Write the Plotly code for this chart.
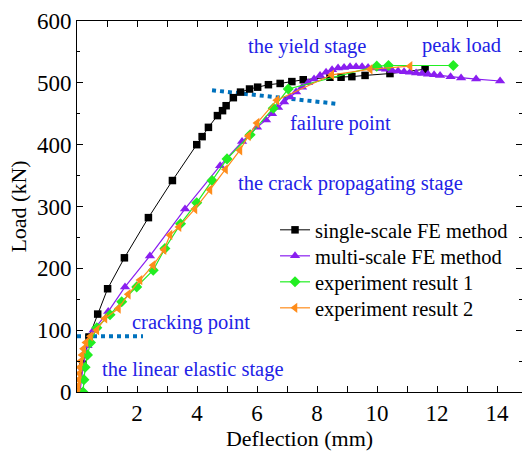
import plotly.graph_objects as go

# single-scale FE method
ss_x = [0.05, 0.2, 0.4, 0.69, 1.02, 1.58, 2.38, 3.18, 3.99, 4.17, 4.38, 4.68, 4.85, 4.97, 5.21, 5.45, 5.75, 6.02, 6.38, 6.77, 7.16, 7.54, 8.43, 8.8, 9.16, 9.6, 10.43, 11.6]
ss_y = [0, 45, 89, 126, 167, 217, 282, 342, 400, 413, 428, 447, 455, 463, 476, 485, 490, 493, 497, 499, 502, 505, 509, 509, 510, 512, 515, 522]

# multi-scale FE method
ms_x = [0.1, 0.2, 0.35, 0.55, 1.04, 1.6, 2.43, 3.6, 4.77, 5.5, 6.0, 6.3, 6.5, 6.7, 6.9, 7.1, 7.3, 7.5, 7.7, 7.9, 8.1, 8.3, 8.5, 8.7, 8.9, 9.1, 9.3, 9.5, 9.7, 9.9, 10.1, 10.3, 10.5, 10.7, 10.9, 11.1, 11.3, 11.5, 11.7, 11.9, 12.1, 12.45, 12.8, 13.3, 14.1]
ms_y = [0, 40, 75, 100, 130, 170, 220, 296, 366, 405, 428, 440, 450, 460, 469, 477, 485, 493, 500, 506, 512, 517, 521, 524, 525, 526, 526, 526, 525, 524, 523, 522, 520, 519, 518, 517, 516, 515, 514, 513, 512, 510, 508, 506, 503]

# experiment result 1
e1_x = [0.2, 0.23, 0.27, 0.35, 0.45, 0.66, 1.1, 1.49, 1.99, 2.54, 2.93, 3.45, 3.99, 4.5, 5.0, 5.77, 6.54, 7.04, 9.99, 10.38, 12.54]
e1_y = [0, 20, 40, 60, 80, 104, 125, 146, 170, 197, 232, 272, 306, 342, 377, 416, 459, 490, 527, 528, 528]

# experiment result 2
e2_x = [0.02, 0.04, 0.06, 0.08, 0.1, 0.13, 0.17, 0.22, 0.3, 0.45, 0.66, 0.93, 1.38, 1.71, 2.1, 2.54, 2.9, 3.1, 3.4, 3.93, 4.43, 4.95, 5.43, 5.71, 6.0, 6.66, 8.49, 9.77, 11.1]
e2_y = [0, 10, 20, 30, 40, 50, 60, 70, 80, 90, 100, 119, 135, 158, 181, 205, 230, 254, 267, 296, 327, 360, 391, 414, 435, 472, 513, 522, 527]

# guide lines
crack_x = [0.0, 2.2]
crack_y = [90, 90]
fail_x = [4.5, 8.67]
fail_y = [488, 466]

annot_text = ["the yield stage", "peak load", "failure point", "the crack propagating stage", "cracking point", "the linear elastic stage"]
annot_x = [7.67, 12.83, 8.77, 9.1, 3.8, 3.85]
annot_y = [558, 560, 434, 337, 113, 37]

serif = "Liberation Serif"
blue_txt = "#2222e6"
dot_col = "#0072bd"

fig = go.Figure()
fig.add_trace(go.Scatter(x=crack_x, y=crack_y, mode="lines", line=dict(color=dot_col, width=4, dash="dot"), showlegend=False))
fig.add_trace(go.Scatter(x=fail_x, y=fail_y, mode="lines", line=dict(color=dot_col, width=4, dash="dot"), showlegend=False))

fig.add_trace(go.Scatter(x=ss_x, y=ss_y, name="single-scale FE method", mode="lines+markers", legend="legend",
                         line=dict(color="black", width=1), marker=dict(symbol="square", size=7.5, color="black")))
fig.add_trace(go.Scatter(x=ms_x, y=ms_y, name="multi-scale FE method", mode="lines+markers", legend="legend2",
                         line=dict(color="#8a1ef0", width=1.2), marker=dict(symbol="triangle-up", size=9, color="#8a1ef0")))
fig.add_trace(go.Scatter(x=e1_x, y=e1_y, name="experiment result 1", mode="lines+markers", legend="legend3",
                         line=dict(color="#22ee22", width=1.2), marker=dict(symbol="diamond", size=8.5, color="#22ee22")))
fig.add_trace(go.Scatter(x=e2_x, y=e2_y, name="experiment result 2", mode="lines+markers", legend="legend4",
                         line=dict(color="#ff8c1a", width=1.2), marker=dict(symbol="triangle-left", size=9, color="#ff8c1a")))

for t, ax, ay in zip(annot_text, annot_x, annot_y):
    fig.add_annotation(x=ax, y=ay, text=t, showarrow=False, xref="x", yref="y",
                       font=dict(family=serif, size=20.5, color=blue_txt))

leg_rows = [230, 256, 282, 308]
leg_common = dict(x=0.445, xanchor="left", yanchor="middle", bgcolor="rgba(0,0,0,0)",
                  font=dict(family=serif, size=20.5, color="black"), itemwidth=30)
legends = {}
for i, py in enumerate(leg_rows):
    key = "legend" if i == 0 else f"legend{i + 1}"
    legends[key] = dict(y=(392 - py) / 371, **leg_common)

fig.update_layout(
    width=522, height=454,
    margin=dict(l=77, r=0, t=21, b=62),
    paper_bgcolor="white", plot_bgcolor="white",
    font=dict(family=serif, size=22, color="black"),
    xaxis=dict(range=[0, 14.83], showgrid=False, zeroline=False, showline=True, linecolor="black", linewidth=1,
               mirror="allticks", ticks="inside", ticklen=6, tickcolor="black",
               tickvals=[2, 4, 6, 8, 10, 12, 14],
               minor=dict(ticks="inside", ticklen=3, dtick=1, tick0=0, tickcolor="black"),
               title=dict(text="Deflection (mm)", standoff=6, font=dict(family=serif, size=22)),
               tickfont=dict(family=serif, size=23)),
    yaxis=dict(range=[0, 600], showgrid=False, zeroline=False, showline=True, linecolor="black", linewidth=1,
               mirror=False, ticks="inside", ticklen=6, tickcolor="black", dtick=100,
               minor=dict(ticks="inside", ticklen=3, dtick=50, tickcolor="black"),
               title=dict(text="Load (kN)", standoff=4, font=dict(family=serif, size=22)),
               tickfont=dict(family=serif, size=23)),
    yaxis2=dict(range=[0, 600], overlaying="y", side="right", showgrid=False, zeroline=False, showline=False,
                ticks="inside", ticklen=6, tickcolor="black", dtick=100, showticklabels=False,
                minor=dict(ticks="inside", ticklen=3, dtick=50, tickcolor="black")),
    **legends,
)
fig.add_trace(go.Scatter(x=[None], y=[None], yaxis="y2", showlegend=False, hoverinfo="skip"))

fig.write_html("out.html")
